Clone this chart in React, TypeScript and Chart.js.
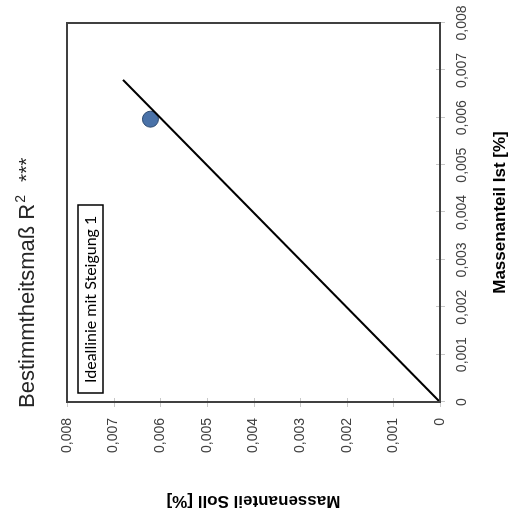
import React, { useEffect, useRef } from "react";
import { Chart, registerables } from "chart.js";

Chart.register(...registerables);

// ---- data ----
const axisTicks = [0, 0.001, 0.002, 0.003, 0.004, 0.005, 0.006, 0.007, 0.008];
const istMeasured = [0.00597];
const sollMeasured = [0.00621];
const idealIst = [0, 0.0068];
const idealSoll = [0, 0.0068];

const chartTitle = "Bestimmtheitsmaß R";
const titleSup = "2";
const titleStars = "***";
const legendText = "Ideallinie mit Steigung 1";
const xTitle = "Massenanteil Ist [%]";
const yTitle = "Massenanteil Soll [%]";

const fmt = (v: number) => (v === 0 ? "0" : v.toFixed(3).replace(".", ","));
const SANS = '"Liberation Sans", Arial, sans-serif';

const decorPlugin = {
  id: "decor",
  afterDraw(chart: any) {
    const { ctx, chartArea } = chart;
    const { left, right, top, bottom } = chartArea;
    const xs = chart.scales.x;
    const ys = chart.scales.y;
    ctx.save();
    // tick marks crossing the border
    ctx.strokeStyle = "#c8c8c8";
    ctx.lineWidth = 1;
    axisTicks.forEach((v) => {
      const px = Math.round(xs.getPixelForValue(v)) + 0.5;
      ctx.beginPath();
      ctx.moveTo(px, bottom - 4);
      ctx.lineTo(px, bottom + 5);
      ctx.stroke();
      const py = Math.round(ys.getPixelForValue(v)) + 0.5;
      ctx.beginPath();
      ctx.moveTo(left - 5, py);
      ctx.lineTo(left + 4, py);
      ctx.stroke();
    });
    // plot border
    ctx.strokeStyle = "#404040";
    ctx.lineWidth = 2;
    ctx.strokeRect(left, top, right - left, bottom - top);

    // title
    ctx.fillStyle = "#262626";
    ctx.textBaseline = "alphabetic";
    ctx.textAlign = "left";
    ctx.font = `22px ${SANS}`;
    const tx = left - 6;
    const ty = 34;
    ctx.fillText(chartTitle, tx, ty);
    const w = ctx.measureText(chartTitle).width;
    ctx.font = `14px ${SANS}`;
    ctx.fillText(titleSup, tx + w + 1, ty - 9);
    ctx.font = `21px ${SANS}`;
    ctx.fillText(titleStars, tx + 226, ty - 1);

    // legend text box
    const bx = left + 9;
    const by = top + 11;
    const bw = 188;
    const bh = 25;
    ctx.fillStyle = "#ffffff";
    ctx.fillRect(bx, by, bw, bh);
    ctx.strokeStyle = "#000000";
    ctx.lineWidth = 1.5;
    ctx.strokeRect(bx, by, bw, bh);
    ctx.fillStyle = "#000000";
    ctx.font = `16px Lato, "Open Sans", sans-serif`;
    ctx.textBaseline = "middle";
    ctx.fillText(legendText, bx + 10, by + bh / 2 + 0.5);
    ctx.restore();
  },
};

export default function App() {
  const ref = useRef<HTMLCanvasElement>(null);

  useEffect(() => {
    const canvas = ref.current!;
    const tickFont = { family: SANS, size: 14 };
    const chart = new Chart(canvas, {
      type: "scatter",
      data: {
        datasets: [
          {
            label: legendText,
            data: idealIst.map((x, i) => ({ x, y: idealSoll[i] })),
            showLine: true,
            borderColor: "#000000",
            borderWidth: 2,
            pointRadius: 0,
            fill: false,
          },
          {
            label: "Messwert",
            data: istMeasured.map((x, i) => ({ x, y: sollMeasured[i] })),
            backgroundColor: "#4a72a8",
            borderColor: "#2c4a70",
            borderWidth: 1,
            pointRadius: 8,
          },
        ],
      },
      options: {
        responsive: false,
        animation: false,
        devicePixelRatio: 1,
        layout: { padding: { top: 67, right: 23, left: 0, bottom: 0 } },
        plugins: {
          legend: { display: false },
          title: { display: false },
          tooltip: { enabled: false },
        },
        scales: {
          x: {
            type: "linear",
            position: "bottom",
            min: 0,
            max: 0.008,
            afterBuildTicks: (s: any) => {
              s.ticks = axisTicks.map((v) => ({ value: v }));
            },
            afterFit: (s: any) => {
              s.height = 72;
              s.paddingLeft = 0;
              s.paddingRight = 0;
            },
            grid: { display: false, drawTicks: false },
            border: { display: false },
            ticks: {
              padding: 14,
              color: "#404040",
              font: tickFont,
              maxRotation: 0,
              autoSkip: false,
              callback: (v: any) => fmt(Number(v)),
            },
            title: {
              display: true,
              text: xTitle,
              color: "#000000",
              font: { family: SANS, size: 17, weight: "bold" },
              padding: { top: 0, bottom: 1 },
            },
          },
          y: {
            type: "linear",
            position: "left",
            min: 0,
            max: 0.008,
            afterBuildTicks: (s: any) => {
              s.ticks = axisTicks.map((v) => ({ value: v }));
            },
            afterFit: (s: any) => {
              s.width = 112;
              s.paddingTop = 0;
              s.paddingBottom = 0;
            },
            grid: { display: false, drawTicks: false },
            border: { display: false },
            ticks: {
              padding: 16,
              color: "#404040",
              font: tickFont,
              autoSkip: false,
              callback: (v: any) => fmt(Number(v)),
            },
            title: {
              display: true,
              text: yTitle,
              color: "#000000",
              font: { family: SANS, size: 17, weight: "bold" },
              padding: { top: 3, bottom: 0 },
            },
          },
        },
      },
      plugins: [decorPlugin],
    } as any);
    return () => chart.destroy();
  }, []);

  return (
    <div
      style={{
        position: "fixed",
        left: 0,
        top: 0,
        width: 512,
        height: 514,
        overflow: "hidden",
        background: "#ffffff",
      }}
    >
      <div
        style={{
          position: "absolute",
          left: -1,
          top: 1,
          width: 514,
          height: 512,
          transform: "rotate(-90deg)",
        }}
      >
        <canvas
          ref={ref}
          width={514}
          height={512}
          style={{ width: 514, height: 512, display: "block" }}
        />
      </div>
    </div>
  );
}
